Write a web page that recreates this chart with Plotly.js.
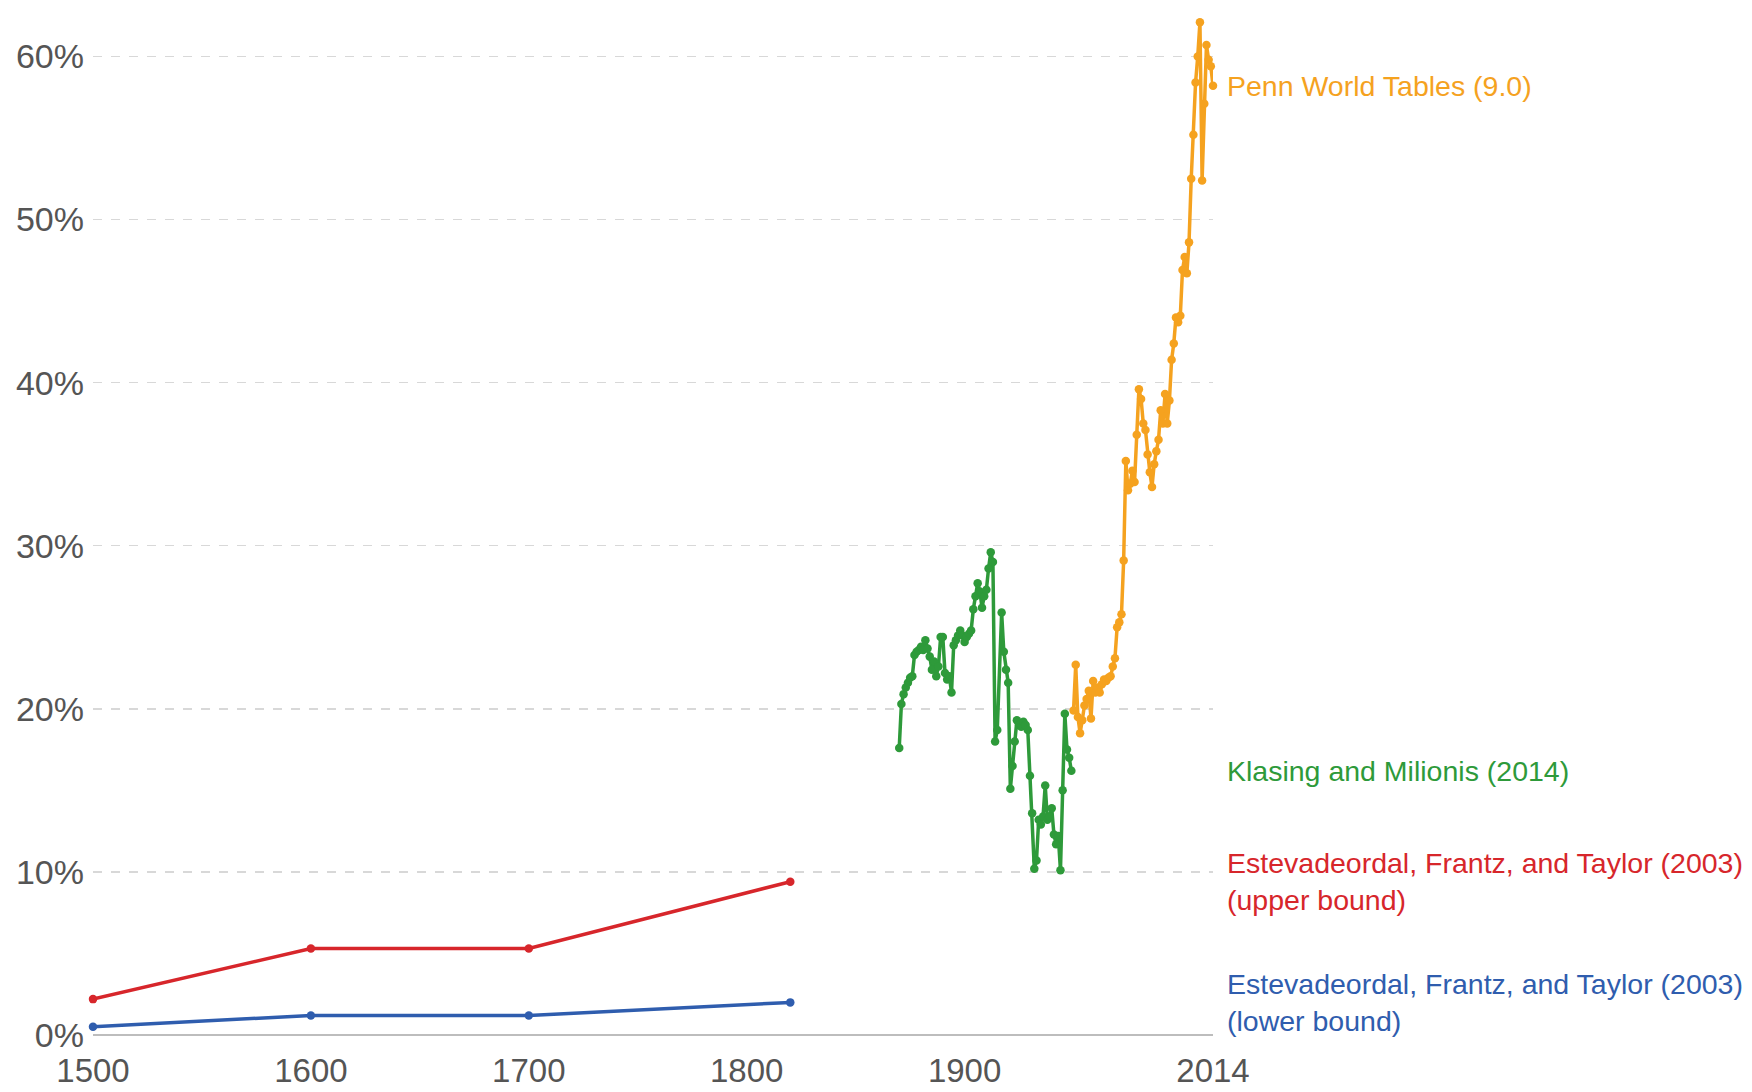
<!DOCTYPE html>
<html>
<head>
<meta charset="utf-8">
<script src="https://cdn.plot.ly/plotly-3.0.1.min.js"></script>
<style>html,body{margin:0;padding:0;background:#fff;}#chart{width:1752px;height:1092px;}</style>
</head>
<body>
<div id="chart"></div>
<script>
// Estevadeordal, Frantz, and Taylor (2003)
const eftYears = [1500, 1600, 1700, 1820];
const eftUpper = [2.2, 5.3, 5.3, 9.4];
const eftLower = [0.5, 1.2, 1.2, 2.0];

// Klasing and Milionis (2014)
const kmYears = [1870,1871,1872,1873,1874,1875,1876,1877,1878,1879,
  1880,1881,1882,1883,1884,1885,1886,1887,1888,1889,
  1890,1891,1892,1893,1894,1895,1896,1897,1898,1899,
  1900,1901,1902,1903,1904,1905,1906,1907,1908,1909,
  1910,1911,1912,1913,1914,1915,1917,1918,1919,
  1920,1921,1922,1923,1924,1925,1926,1927,1928,1929,
  1930,1931,1932,1933,1934,1935,1936,1937,1938,1939,
  1940,1941,1942,1943,1944,1945,1946,1947,1948,1949];
const kmValues = [17.6,20.3,20.9,21.3,21.6,21.9,22.0,23.3,23.5,23.6,
  23.8,23.6,24.2,23.7,23.2,22.4,22.9,22.0,22.6,24.4,
  24.4,22.2,21.8,22.0,21.0,23.9,24.2,24.5,24.8,24.5,
  24.1,24.4,24.6,24.8,26.1,26.9,27.7,27.2,26.2,26.9,
  27.3,28.6,29.6,29.0,18.0,18.7,25.9,23.5,22.4,
  21.6,15.1,16.5,18.0,19.3,19.0,18.9,19.2,19.0,18.7,
  15.9,13.6,10.2,10.7,13.2,12.9,13.4,15.3,13.2,13.4,
  13.9,12.3,11.7,12.2,10.1,15.0,19.7,17.5,17.0,16.2];

// Penn World Tables (9.0)
const pwtYears = [1950,1951,1952,1953,1954,1955,1956,1957,1958,1959,
  1960,1961,1962,1963,1964,1965,1966,1967,1968,1969,
  1970,1971,1972,1973,1974,1975,1976,1977,1978,1979,
  1980,1981,1982,1983,1984,1985,1986,1987,1988,1989,
  1990,1991,1992,1993,1994,1995,1996,1997,1998,1999,
  2000,2001,2002,2003,2004,2005,2006,2007,2008,2009,
  2010,2011,2012,2013,2014];
const pwtValues = [19.9,22.7,19.5,18.5,19.3,20.2,20.6,21.1,19.4,21.7,
  21.0,21.3,21.0,21.5,21.8,21.7,21.9,22.0,22.6,23.1,
  25.0,25.3,25.8,29.1,35.2,33.4,33.8,34.6,33.9,36.8,
  39.6,39.0,37.5,37.1,35.6,34.5,33.6,35.0,35.8,36.5,
  38.3,37.5,39.3,37.5,38.9,41.4,42.4,44.0,43.7,44.1,
  46.9,47.7,46.7,48.6,52.5,55.2,58.4,60.0,62.1,52.4,
  57.1,60.7,59.8,59.4,58.2];

const seriesNames = [
  "Penn World Tables (9.0)",
  "Klasing and Milionis (2014)",
  "Estevadeordal, Frantz, and Taylor (2003)<br>(upper bound)",
  "Estevadeordal, Frantz, and Taylor (2003)<br>(lower bound)"
];
const colors = ["#F5A21F", "#2E9A3A", "#D7262B", "#2F5DAE"];

const xTicks = [1500, 1600, 1700, 1800, 1900, 2014];
const yTicks = [0, 10, 20, 30, 40, 50, 60];
const yTickText = yTicks.map(v => v + "%");

const FONT = '"Liberation Sans", Arial, sans-serif';

function tr(x, y, c, msize, lw) {
  return {
    x: x, y: y, type: 'scatter', mode: 'lines+markers',
    line: {color: c, width: lw},
    marker: {color: c, size: msize},
    cliponaxis: false,
    showlegend: false,
    hoverinfo: 'x+y'
  };
}

const data = [
  tr(eftYears, eftLower, colors[3], 8.5, 3.5),
  tr(eftYears, eftUpper, colors[2], 8.5, 3.5),
  tr(kmYears, kmValues, colors[1], 8.5, 3.5),
  tr(pwtYears, pwtValues, colors[0], 8.5, 3.5)
];

const lastVals = [
  pwtValues[pwtValues.length - 1],
  kmValues[kmValues.length - 1],
  eftUpper[eftUpper.length - 1],
  eftLower[eftLower.length - 1]
];

const annotations = seriesNames.map((n, i) => ({
  xref: 'paper', x: 1, xshift: 12, xanchor: 'left',
  yref: 'y', y: lastVals[i], yanchor: 'middle',
  text: n, showarrow: false, align: 'left',
  font: {family: FONT, size: 28.5, color: colors[i]}
}));

const layout = {
  width: 1752, height: 1092,
  margin: {l: 93, r: 539, t: 8, b: 57},
  paper_bgcolor: '#ffffff', plot_bgcolor: '#ffffff',
  font: {family: FONT},
  xaxis: {
    range: [1500, 2014],
    tickvals: xTicks, ticktext: xTicks.map(String),
    showgrid: false, zeroline: false,
    showline: false, ticks: '', ticklabelstandoff: 13,
    tickfont: {family: FONT, size: 33, color: '#555'},
    fixedrange: true
  },
  yaxis: {
    range: [0, 62.97],
    tickvals: yTicks, ticktext: yTickText,
    showgrid: true, gridcolor: '#d8d8d8', griddash: 'dash', gridwidth: 1.5,
    zeroline: true, zerolinecolor: '#bdbdbd', zerolinewidth: 2,
    showline: false, ticks: '', ticklabelstandoff: 8,
    tickfont: {family: FONT, size: 34, color: '#555'},
    fixedrange: true
  },
  annotations: annotations,
  showlegend: false
};

Plotly.newPlot('chart', data, layout, {displayModeBar: false, staticPlot: true});
</script>
</body>
</html>
